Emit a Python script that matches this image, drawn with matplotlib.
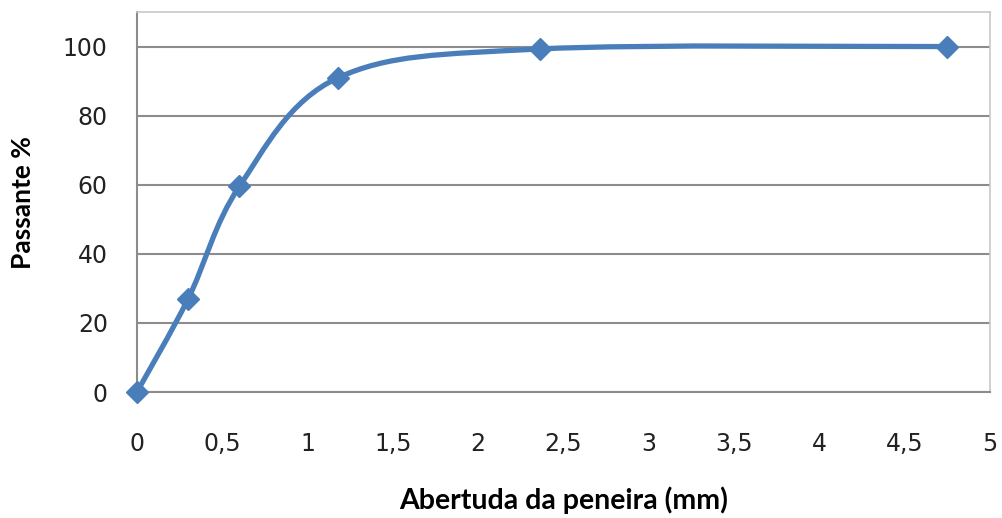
import matplotlib.pyplot as plt
from matplotlib.path import Path
from matplotlib.patches import PathPatch
import numpy as np

plt.rcParams['font.family'] = ['DejaVu Sans']

# 数据
abertura = [0, 0.3, 0.6, 1.18, 2.36, 4.75]
passante = [0, 27, 59.5, 91, 99.3, 100]

cor = '#4a7ebb'
cinza = '#8c8c8c'

# Excel-style smoothed line (Catmull-Rom -> Bezier)
pts = np.column_stack([abertura, passante])
verts = [tuple(pts[0])]
codes = [Path.MOVETO]
n = len(pts)
for i in range(n - 1):
    p0 = pts[i - 1] if i > 0 else pts[i]
    p1 = pts[i]
    p2 = pts[i + 1]
    p3 = pts[i + 2] if i + 2 < n else pts[i + 1]
    c1 = p1 + (p2 - p0) / 6
    c2 = p2 - (p3 - p1) / 6
    verts += [tuple(c1), tuple(c2), tuple(p2)]
    codes += [Path.CURVE4] * 3

fig = plt.figure(figsize=(10.02, 5.18), dpi=100)
ax = fig.add_axes([0.1367, 0.2432, 0.8513, 0.7336])

ax.add_patch(PathPatch(Path(verts, codes), facecolor='none', edgecolor=cor,
                       linewidth=3.8, capstyle='round', joinstyle='round', zorder=3))
ax.plot(abertura, passante, linestyle='none', marker='D', markersize=11,
        color=cor, zorder=4, clip_on=False)

ax.set_xlim(0, 5)
ax.set_ylim(0, 110)
ax.set_xticks(np.arange(0, 5.01, 0.5))
ax.set_xticklabels(['0', '0,5', '1', '1,5', '2', '2,5', '3', '3,5', '4', '4,5', '5'])
ax.set_yticks(range(0, 101, 20))
ax.tick_params(axis='both', length=0, labelsize=17, colors='#222222')
ax.tick_params(axis='x', pad=29)
ax.tick_params(axis='y', pad=21)

ax.grid(True, axis='y', color=cinza, linewidth=1.5)
ax.set_axisbelow(True)
for s in ['top', 'right']:
    ax.spines[s].set_color('#c8c8c8')
    ax.spines[s].set_linewidth(1.2)
for s in ['left', 'bottom']:
    ax.spines[s].set_color(cinza)
    ax.spines[s].set_linewidth(1.5)

fig.text(0.562, 0.008, 'Abertuda da peneira (mm)', ha='center', va='bottom',
         fontsize=20.5, fontweight='bold', family='Lato')
fig.text(0.023, 0.608, 'Passante %', ha='center', va='center', rotation=90,
         fontsize=19, fontweight='bold', family='Lato')

plt.savefig('out.png', dpi=100)
